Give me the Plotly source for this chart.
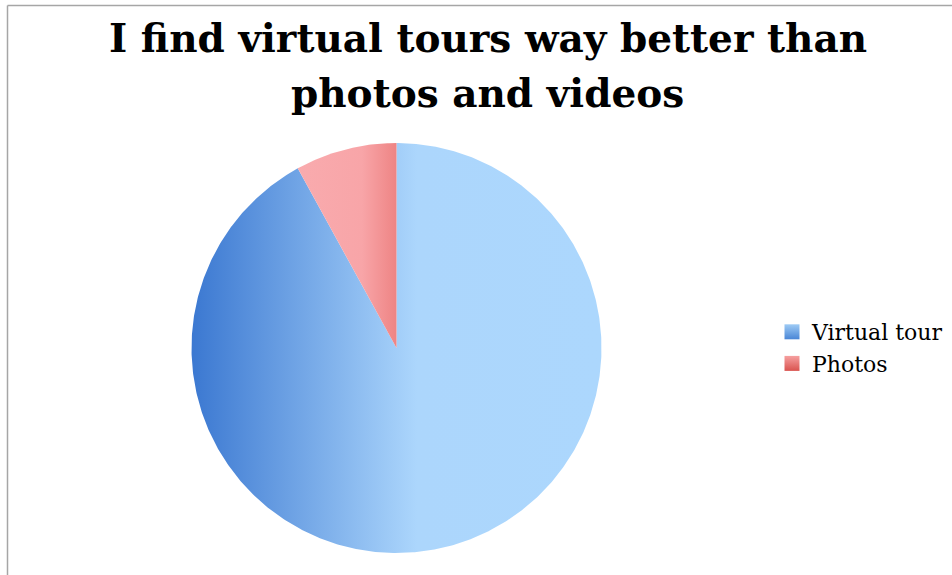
import numpy as np
import plotly.graph_objects as go

# Survey answers: "I find virtual tours way better than photos and videos"
labels = ["Virtual tour", "Photos"]
values = [92, 8]
title_lines = ["I find virtual tours way better than", "photos and videos"]

# Horizontal gradient fills for each slice
gradients = [
    dict(type="horizontal", start=-1.0, stop=1.0,
         colorscale=[[0, "#3b78d1"], [0.55, "#acd6fc"], [1, "#acd7fd"]]),
    dict(type="horizontal",
         colorscale=[[0, "#f9abae"], [0.65, "#f8a5a8"], [1, "#ee8484"]]),
]
# Legend swatches: (top colour, bottom colour)
swatches = [("#9ecbf5", "#4a86d6"), ("#f6a0a0", "#d9534f")]

W, H = 952, 575
cx_px, cy_px, r_px = 395, 348, 205  # pie centre and radius in pixels

fig = go.Figure()

total = float(sum(values))
start = 0.0
for lab, val, grad in zip(labels, values, gradients):
    frac = val / total
    # clockwise from 12 o'clock, like a standard pie
    t = np.linspace(start, start + frac, max(int(frac * 720), 4))
    ang = np.pi / 2 - 2 * np.pi * t
    xs = np.concatenate([[0.0], np.cos(ang), [0.0]])
    ys = np.concatenate([[0.0], np.sin(ang), [0.0]])
    fig.add_trace(go.Scatter(
        x=xs, y=ys, mode="lines", fill="toself", name=lab,
        line=dict(width=0, color=grad["colorscale"][1][1]),
        fillgradient=grad, hoverinfo="name", showlegend=False,
    ))
    start += frac

# Square legend swatches
for lab, (top, bottom) in zip(labels, swatches):
    fig.add_trace(go.Scatter(
        x=[None], y=[None], mode="markers", name=lab,
        marker=dict(symbol="square", size=15, color=top,
                    gradient=dict(type="vertical", color=bottom),
                    line=dict(width=0)),
        showlegend=True,
    ))

# Axis ranges chosen so one data unit equals the radius in pixels on both axes
xr = [-(cx_px + 1.5) / r_px, (W - cx_px - 1.5) / r_px]
yr = [-(H - cy_px) / r_px, cy_px / r_px]

title_font = dict(family="DejaVu Serif", size=39, color="black", weight="bold")
annotations = [
    dict(text=line, xref="paper", yref="paper", x=488 / W, y=1 - yc / H,
         xanchor="center", yanchor="middle", showarrow=False, font=title_font)
    for line, yc in zip(title_lines, [38, 93])
]

fig.update_layout(
    width=W, height=H,
    margin=dict(l=0, r=0, t=0, b=0),
    paper_bgcolor="white", plot_bgcolor="white",
    xaxis=dict(range=xr, visible=False, fixedrange=True),
    yaxis=dict(range=yr, visible=False, fixedrange=True),
    annotations=annotations,
    legend=dict(
        x=772 / W, y=1 - 348 / H, xanchor="left", yanchor="middle",
        font=dict(family="DejaVu Serif", size=22, color="black"),
        bgcolor="rgba(0,0,0,0)", itemwidth=30, tracegroupgap=0,
    ),
    shapes=[
        dict(type="line", xref="paper", yref="paper",
             x0=7.5 / W, x1=1, y0=1 - 5.5 / H, y1=1 - 5.5 / H,
             line=dict(color="#a6a6a6", width=1.5)),
        dict(type="line", xref="paper", yref="paper",
             x0=7.5 / W, x1=7.5 / W, y0=0, y1=1 - 5.5 / H,
             line=dict(color="#a6a6a6", width=1.5)),
    ],
    showlegend=True,
)

fig.write_html("out.html")
